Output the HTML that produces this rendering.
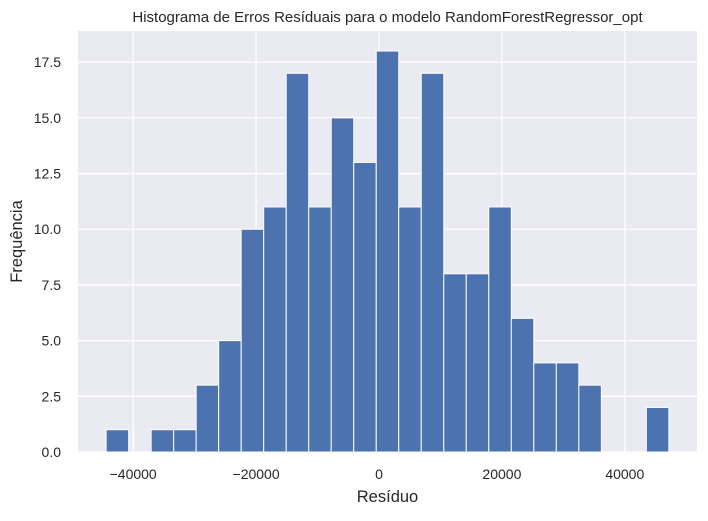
<!DOCTYPE html>
<html><head><meta charset="utf-8"><style>
body{margin:0;background:#fff;width:708px;height:516px;overflow:hidden}
text{font-family:"Liberation Sans","DejaVu Sans",sans-serif;fill:#262626}
</style></head><body>
<svg id="chart" width="708" height="516" xmlns="http://www.w3.org/2000/svg"></svg>
<script>
const binStart = -44400;
const binEnd = 47170;
const counts = [1,0,1,1,3,5,10,11,17,11,15,13,18,11,17,8,8,11,6,4,4,3,0,0,2];
const xTicks = [-40000,-20000,0,20000,40000];
const xTickLabels = ["\u221240000","\u221220000","0","20000","40000"];
const yTicks = [0,2.5,5,7.5,10,12.5,15,17.5];
const yTickLabels = ["0.0","2.5","5.0","7.5","10.0","12.5","15.0","17.5"];

const L=78,R=697,T=31,B=452;
const span=binEnd-binStart, xmin=binStart-0.05*span, xmax=binEnd+0.05*span;
const ymax=Math.max(...counts)*1.05;
const sx=v=>L+(v-xmin)/(xmax-xmin)*(R-L);
const sy=v=>B-v/ymax*(B-T);
const svg=document.getElementById('chart');
const NS='http://www.w3.org/2000/svg';
function mk(tag,attrs,parent){const e=document.createElementNS(NS,tag);for(const k in attrs)e.setAttribute(k,attrs[k]);(parent||svg).appendChild(e);return e;}

const bg=mk('rect',{x:L,y:T,width:R-L,height:B-T,fill:'#eaeaf2'});



xTicks.forEach((v,i)=>{
  const g=mk('line',{x1:sx(v),x2:sx(v),y1:T,y2:B,stroke:'#fff','stroke-width':1.3});
  
  
  const t=mk('text',{x:sx(v),y:B+27,'text-anchor':'middle','font-size':'14px'});
  t.textContent=xTickLabels[i];
  
  
});
yTicks.forEach((v,i)=>{
  const g=mk('line',{x1:L,x2:R,y1:sy(v),y2:sy(v),stroke:'#fff','stroke-width':1.3});
  
  
  const t=mk('text',{x:L-17,y:sy(v)+5,'text-anchor':'end','font-size':'14px'});
  t.textContent=yTickLabels[i];
  
  
});

const bw=span/counts.length;
counts.forEach((c,i)=>{
  if(c<=0)return;
  const x0=sx(binStart+i*bw),x1=sx(binStart+(i+1)*bw);
  const r=mk('rect',{x:x0,y:sy(c),width:x1-x0,height:B-sy(c),fill:'#4c72b0',stroke:'#fff','stroke-width':1});
  
  
});

const title=mk('text',{x:(L+R)/2,y:22,'text-anchor':'middle','font-size':'15px'});
title.textContent='Histograma de Erros Resíduais para o modelo RandomForestRegressor_opt';


const xt=mk('text',{x:(L+R)/2,y:502,'text-anchor':'middle','font-size':'16.5px'});
xt.textContent='Resíduo';


const yt=mk('text',{x:0,y:0,'text-anchor':'middle','font-size':'16.5px',transform:`translate(22,${(T+B)/2}) rotate(-90)`});
yt.textContent='Frequência';


</script>
</body></html>
